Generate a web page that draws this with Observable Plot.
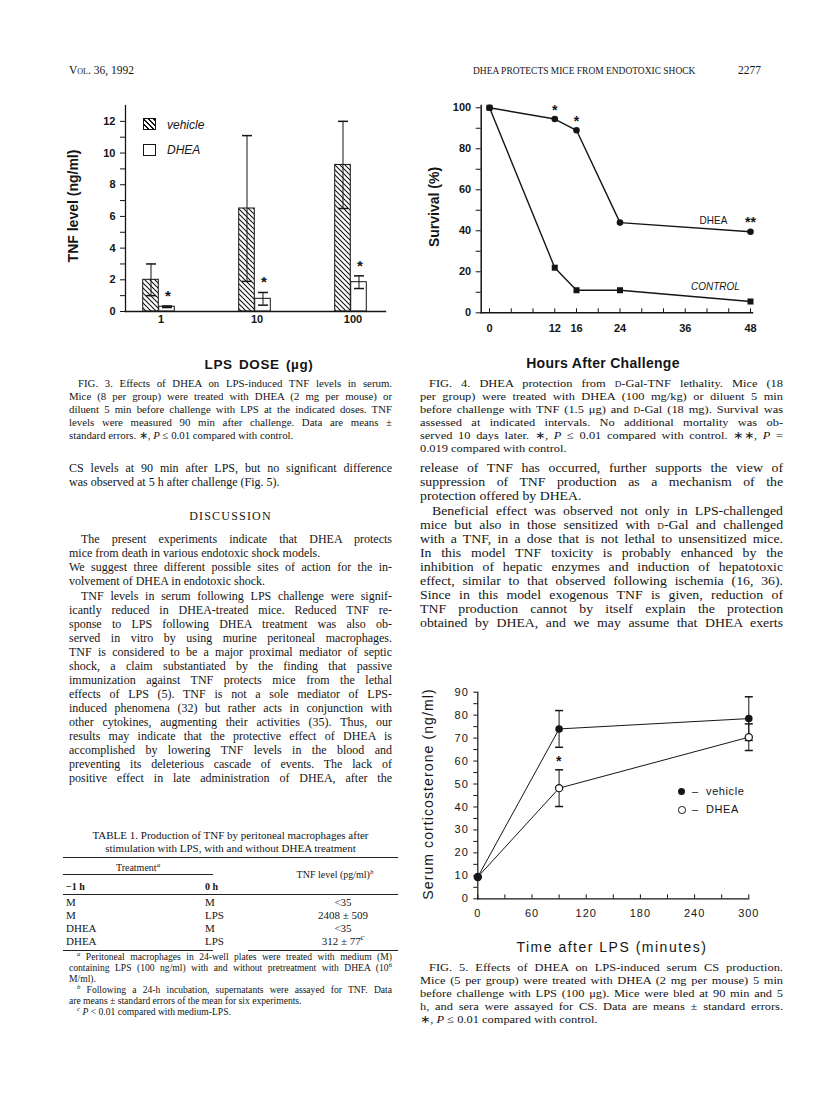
<!DOCTYPE html>
<html><head><meta charset="utf-8">
<script src="https://cdn.jsdelivr.net/npm/d3@7"></script>
<script src="https://cdn.jsdelivr.net/npm/@observablehq/plot@0.6"></script>
<style>
html,body{margin:0;padding:0;background:#fff;}
#page{position:relative;width:816px;height:1103px;overflow:hidden;font-family:"Liberation Serif","Times New Roman",serif;color:#151515;}
#page div{position:absolute;}
.sc{font-variant:small-caps;}
sup{font-size:0.7em;line-height:0;font-style:italic;}
</style></head><body><div id="page"></div>
<script>
// ---------- Fig. 3 data ----------
const doses = ["1", "10", "100"];
const tnfVehicle = [2.0, 6.5, 9.25];
const tnfVehicleSE = [1.0, 4.6, 2.75];
const tnfDhea = [0.3, 0.8, 1.85];
const tnfDheaSE = [0.05, 0.4, 0.4];
const tnfStars = ["*", "*", "*"];
const tnfTicks = d3.range(0, 13, 1);

// ---------- Fig. 4 data ----------
const hours = [0, 12, 16, 24, 48];
const survDhea = [100, 94.5, 89, 44, 39.5];
const survControl = [100, 22, 11, 11, 5.5];
const survStars = ["", "*", "*", "", "**"];
const hourLabels = [0, 12, 16, 24, 36, 48];

// ---------- Fig. 5 data ----------
const minutes = [0, 90, 300];
const csVehicle = [9.5, 74, 78.5];
const csVehicleSE = [0, 8, 9.5];
const csDhea = [9.5, 48.2, 70.4];
const csDheaSE = [0, 8, 5.8];
const csStars = ["", "*", ""];

// ---------- Table 1 ----------
const tblPre = ["M", "M", "DHEA", "DHEA"];
const tblZero = ["M", "LPS", "M", "LPS"];
const tblTnf = ["&lt;35", "2408 ± 509", "&lt;35", "312 ± 77<sup>c</sup>"];

// ---------- Text ----------
const cap3 = [
 "FIG. 3. Effects of DHEA on LPS-induced TNF levels in serum.",
 "Mice (8 per group) were treated with DHEA (2 mg per mouse) or",
 "diluent 5 min before challenge with LPS at the indicated doses. TNF",
 "levels were measured 90 min after challenge. Data are means ±",
 "standard errors. ∗, <i>P</i> ≤ 0.01 compared with control."];
const cap4 = [
 "FIG. 4. DHEA protection from <span class='sc'>d</span>-Gal-TNF lethality. Mice (18",
 "per group) were treated with DHEA (100 mg/kg) or diluent 5 min",
 "before challenge with TNF (1.5 μg) and <span class='sc'>d</span>-Gal (18 mg). Survival was",
 "assessed at indicated intervals. No additional mortality was ob-",
 "served 10 days later. ∗, <i>P</i> ≤ 0.01 compared with control. ∗∗, <i>P</i> =",
 "0.019 compared with control."];
const cap5 = [
 "FIG. 5. Effects of DHEA on LPS-induced serum CS production.",
 "Mice (5 per group) were treated with DHEA (2 mg per mouse) 5 min",
 "before challenge with LPS (100 μg). Mice were bled at 90 min and 5",
 "h, and sera were assayed for CS. Data are means ± standard errors.",
 "∗, <i>P</i> ≤ 0.01 compared with control."];
const bodyL1 = [
 "CS levels at 90 min after LPS, but no significant difference",
 "was observed at 5 h after challenge (Fig. 5)."];
const discP1 = [
 "The present experiments indicate that DHEA protects",
 "mice from death in various endotoxic shock models.",
 "We suggest three different possible sites of action for the in-",
 "volvement of DHEA in endotoxic shock."];
const discP2 = [
 "TNF levels in serum following LPS challenge were signif-",
 "icantly reduced in DHEA-treated mice. Reduced TNF re-",
 "sponse to LPS following DHEA treatment was also ob-",
 "served in vitro by using murine peritoneal macrophages.",
 "TNF is considered to be a major proximal mediator of septic",
 "shock, a claim substantiated by the finding that passive",
 "immunization against TNF protects mice from the lethal",
 "effects of LPS (5). TNF is not a sole mediator of LPS-",
 "induced phenomena (32) but rather acts in conjunction with",
 "other cytokines, augmenting their activities (35). Thus, our",
 "results may indicate that the protective effect of DHEA is",
 "accomplished by lowering TNF levels in the blood and",
 "preventing its deleterious cascade of events. The lack of",
 "positive effect in late administration of DHEA, after the"];
const bodyR1 = [
 "release of TNF has occurred, further supports the view of",
 "suppression of TNF production as a mechanism of the",
 "protection offered by DHEA."];
const bodyR2 = [
 "Beneficial effect was observed not only in LPS-challenged",
 "mice but also in those sensitized with <span class='sc'>d</span>-Gal and challenged",
 "with a TNF, in a dose that is not lethal to unsensitized mice.",
 "In this model TNF toxicity is probably enhanced by the",
 "inhibition of hepatic enzymes and induction of hepatotoxic",
 "effect, similar to that observed following ischemia (16, 36).",
 "Since in this model exogenous TNF is given, reduction of",
 "TNF production cannot by itself explain the protection",
 "obtained by DHEA, and we may assume that DHEA exerts"];
const foot = [
 ["<sup>a</sup> Peritoneal macrophages in 24-well plates were treated with medium (M)", 8, true],
 ["containing LPS (100 ng/ml) with and without pretreatment with DHEA (10<sup style='font-style:normal'>6</sup>", 0, true],
 ["M/ml).", 0, false],
 ["<sup>b</sup> Following a 24-h incubation, supernatants were assayed for TNF. Data", 8, true],
 ["are means ± standard errors of the mean for six experiments.", 0, false],
 ["<sup>c</sup> <i>P</i> &lt; 0.01 compared with medium-LPS.", 8, false]];

// ---------- layout helpers ----------
const page = document.getElementById("page");
function put(html, css) { const d = document.createElement("div"); d.innerHTML = html; d.style.cssText += css; page.appendChild(d); return d; }
const L0 = 69, LW = 323, R0 = 420, RW = 363, RSX = 1.15;
function para(lines, x, y0, w, lh, fs, indent, leftIdx, sx = 1) {
  lines.forEach((t, i) => {
    const ind = i === 0 ? indent : 0;
    const just = !leftIdx.includes(i) && !(leftIdx.includes(-1) && i === lines.length - 1);
    const a = just ? "justify" : "left";
    put(t, `left:${x + ind}px;top:${(y0 + i * lh - lh / 2 - 1).toFixed(1)}px;width:${((w - ind) / sx).toFixed(1)}px;transform:scaleX(${sx});transform-origin:0 0;font-size:${fs}px;line-height:${lh}px;white-space:nowrap;text-align:${a};text-align-last:${a};`);
  });
}

// header
put("<span class='sc'>Vol.</span> 36, 1992", "left:69px;top:63px;font-size:11.5px;line-height:14px;white-space:nowrap;");
put("DHEA PROTECTS MICE FROM ENDOTOXIC SHOCK", "left:473px;top:63px;font-size:11px;line-height:14px;white-space:nowrap;transform:scaleX(0.86);transform-origin:0 0;");
put("2277", "left:738px;top:63px;font-size:11.5px;line-height:14px;");

// left column text
para(cap3, L0, 384, LW, 13, 10.8, 9, [-1]);
para(bodyL1, L0, 469, LW, 14, 12, 0, [-1]);
put("DISCUSSION", `left:${L0}px;width:${LW}px;top:509px;text-align:center;font-size:12px;letter-spacing:1.2px;line-height:14px;`);
para(discP1, L0, 540, LW, 14, 12, 12, [1, 3]);
para(discP2, L0, 597, LW, 14, 12, 12, []);

// table
const T0 = 63, T1 = 398;
put("TABLE 1. Production of TNF by peritoneal macrophages after", `left:${T0}px;width:${T1-T0}px;top:829px;text-align:center;font-size:11px;line-height:13px;white-space:nowrap;`);
put("stimulation with LPS, with and without DHEA treatment", `left:${T0}px;width:${T1-T0}px;top:842px;text-align:center;font-size:11px;line-height:13px;white-space:nowrap;`);
put("", `left:${T0}px;width:${T1-T0}px;top:857px;height:0;border-top:1.2px solid #222;`);
put("Treatment<sup>a</sup>", `left:${T0}px;width:150px;top:862px;text-align:center;font-size:10px;line-height:12px;`);
put("", `left:${T0}px;width:150px;top:874px;height:0;border-top:0.8px solid #222;`);
put("TNF level (pg/ml)<sup>b</sup>", `left:272px;width:126px;top:869px;text-align:center;font-size:10px;line-height:12px;white-space:nowrap;`);
put("−1 h", "left:66px;top:881px;font-size:10px;line-height:12px;font-weight:bold;");
put("0 h", "left:205px;top:881px;font-size:10px;line-height:12px;font-weight:bold;");
put("", `left:${T0}px;width:${T1-T0}px;top:894px;height:0;border-top:0.8px solid #222;`);
tblPre.forEach((t, i) => {
  const y = 903 + i * 13 - 7;
  put(t, `left:66px;top:${y}px;font-size:11px;line-height:13px;`);
  put(tblZero[i], `left:205px;top:${y}px;font-size:11px;line-height:13px;`);
  put(tblTnf[i], `left:283px;width:120px;top:${y}px;text-align:center;font-size:11px;line-height:13px;white-space:nowrap;`);
});
put("", `left:${T0}px;width:150px;top:950px;height:0;border-top:0.8px solid #222;`);
put("", `left:248px;width:${T1-248}px;top:950px;height:0;border-top:0.8px solid #222;`);
foot.forEach(([t, ind, j], i) => {
  const a = j ? "justify" : "left";
  put(t, `left:${L0 + ind}px;width:${LW - ind}px;top:${957 + i * 11 - 6.5}px;font-size:9.6px;line-height:11px;white-space:nowrap;text-align:${a};text-align-last:${a};`);
});

// right column text
para(cap4, R0, 384, RW, 13, 10.8, 9, [-1], RSX);
para(bodyR1, R0, 469, RW, 14, 12, 0, [-1], RSX);
para(bodyR2, R0, 512, RW, 14, 12, 12, [], RSX);
para(cap5, R0, 968, RW, 13, 10.8, 9, [-1], RSX);

// ---------- shared ----------
const ink = "#151515";
const capSym = {draw(ctx, size) { const r = Math.sqrt(size / Math.PI); ctx.moveTo(-r, 0); ctx.lineTo(r, 0); }};
function place(svg, left, top) { const d = document.createElement("div"); d.style.cssText = `position:absolute;left:${left}px;top:${top}px;`; d.appendChild(svg); page.appendChild(d); return svg; }
const sansBold = {fontFamily: "Liberation Sans, Arial, sans-serif", fontSize: "11px", fontWeight: "bold", color: ink, background: "transparent", overflow: "visible"};

// ---------- Fig. 3 ----------
const f3 = doses.map((d, i) => ({dose: d, v: tnfVehicle[i], vse: tnfVehicleSE[i], h: tnfDhea[i], hse: tnfDheaSE[i], s: tnfStars[i]}));
const bw3 = 260 * 0.7 / 2.7, hb = bw3 / 2;
const fig3 = Plot.plot({
  width: 335, height: 240, marginLeft: 65, marginRight: 10, marginTop: 10, marginBottom: 24,
  style: sansBold,
  x: {domain: doses, paddingInner: 0.3, paddingOuter: 0},
  y: {domain: [0, 13]},
  marks: [
    Plot.barY(f3, {x: "dose", y: "v", fill: "url(#hatch3)", stroke: ink, strokeWidth: 1, insetLeft: hb - 16, insetRight: hb}),
    Plot.barY(f3, {x: "dose", y: "h", fill: "#fff", stroke: ink, strokeWidth: 1, insetLeft: hb, insetRight: hb - 16}),
    Plot.ruleX(f3, {x: "dose", y1: d => d.v - d.vse, y2: d => d.v + d.vse, dx: -8, stroke: ink}),
    Plot.dot(f3, {x: "dose", y: d => d.v + d.vse, dx: -8, symbol: capSym, r: 5, stroke: ink}),
    Plot.dot(f3, {x: "dose", y: d => d.v - d.vse, dx: -8, symbol: capSym, r: 5, stroke: ink}),
    Plot.ruleX(f3, {x: "dose", y1: d => d.h - d.hse, y2: d => d.h + d.hse, dx: 8, stroke: ink}),
    Plot.dot(f3, {x: "dose", y: d => d.h + d.hse, dx: 8, symbol: capSym, r: 5, stroke: ink}),
    Plot.dot(f3, {x: "dose", y: d => d.h - d.hse, dx: 8, symbol: capSym, r: 5, stroke: ink}),
    Plot.text(f3, {x: "dose", y: d => d.h + d.hse, text: "s", dx: 9, dy: -10, fontSize: 15, fill: ink}),
    Plot.axisY({ticks: tnfTicks, tickFormat: d => d % 2 ? "" : d, tickSize: 5, tickPadding: 5, label: null, stroke: ink}),
    Plot.axisX({tickSize: 0, tickPadding: 4, dx: 2, label: null}),
    Plot.frame({anchor: "left", stroke: ink, strokeWidth: 1.3}),
    Plot.frame({anchor: "bottom", stroke: ink, strokeWidth: 1.3})
  ]
});
fig3.insertAdjacentHTML("afterbegin", `<defs><pattern id="hatch3" patternUnits="userSpaceOnUse" width="5" height="5"><rect width="5" height="5" fill="#fff"/><path d="M0,0L5,5M-1,4L1,6M4,-1L6,1" stroke="${ink}" stroke-width="1.1"/></pattern></defs>`);
place(fig3, 60, 95);
put("TNF level (ng/ml)", "left:73px;top:206px;transform:translate(-50%,-50%) rotate(-90deg);font-family:'Liberation Sans',Arial,sans-serif;font-weight:bold;font-size:14px;white-space:nowrap;line-height:16px;");
put("LPS DOSE (µg)", "left:259px;top:365px;transform:translate(-50%,-50%);font-family:'Liberation Sans',Arial,sans-serif;font-weight:bold;font-size:13.5px;letter-spacing:0.6px;word-spacing:2px;white-space:nowrap;line-height:16px;");
put("", `left:143px;top:118px;width:11px;height:10px;border:1px solid ${ink};background:repeating-linear-gradient(45deg,#fff 0 2.6px,${ink} 2.6px 3.6px);`);
put("", `left:143px;top:144px;width:11px;height:10px;border:1px solid ${ink};background:#fff;`);
put("vehicle", "left:167px;top:117px;font-family:'Liberation Sans',Arial,sans-serif;font-style:italic;font-size:12px;line-height:16px;");
put("DHEA", "left:167px;top:142px;font-family:'Liberation Sans',Arial,sans-serif;font-style:italic;font-size:12px;line-height:16px;");

// ---------- Fig. 4 ----------
const f4 = hours.map((h, i) => ({h, d: survDhea[i], c: survControl[i], s: survStars[i]}));
const fig4 = Plot.plot({
  width: 350, height: 247.3, marginLeft: 65.7, marginRight: 13, marginTop: 10, marginBottom: 30,
  style: sansBold,
  x: {domain: [-1.53, 48.37]},
  y: {domain: [0, 101.1]},
  marks: [
    Plot.frame({anchor: "left", stroke: ink, strokeWidth: 1.5}),
    Plot.frame({anchor: "bottom", stroke: ink, strokeWidth: 1.5}),
    Plot.axisY({ticks: d3.range(0, 101, 10), tickFormat: d => d % 20 ? "" : d, tickSize: 5, tickPadding: 5, label: null}),
    Plot.axisX({ticks: hourLabels, tickSize: 0, tickPadding: 11, label: null}),
    Plot.tickX(d3.range(0, 49, 4), {x: d => d, insetTop: 207.3 - 4, stroke: ink}),
    Plot.line(f4, {x: "h", y: "d", stroke: ink, strokeWidth: 1.4}),
    Plot.line(f4, {x: "h", y: "c", stroke: ink, strokeWidth: 1.4}),
    Plot.dot(f4, {x: "h", y: "d", r: 3.3, fill: ink}),
    Plot.dot(f4, {x: "h", y: "c", r: 3.4, symbol: "square", fill: ink}),
    Plot.text(f4, {x: "h", y: "d", text: "s", dy: -9, fontSize: 14, fill: ink}),
    Plot.text(f4.slice(-1), {x: "h", y: "d", text: () => "DHEA", dx: -37, dy: -11, fontSize: 10, fontWeight: "normal", fill: ink}),
    Plot.text(f4.slice(-1), {x: "h", y: "c", text: () => "CONTROL", dx: -35, dy: -15, fontSize: 10, fontWeight: "normal", fontStyle: "italic", fill: ink})
  ]
});
place(fig4, 415, 95);
put("Survival (%)", "left:434px;top:207px;transform:translate(-50%,-50%) rotate(-90deg);font-family:'Liberation Sans',Arial,sans-serif;font-weight:bold;font-size:14px;white-space:nowrap;line-height:16px;");
put("Hours After Challenge", "left:603px;top:363px;transform:translate(-50%,-50%);font-family:'Liberation Sans',Arial,sans-serif;font-weight:bold;font-size:14px;letter-spacing:0.3px;white-space:nowrap;line-height:16px;");

// ---------- Fig. 5 ----------
const f5 = minutes.map((m, i) => ({m, v: csVehicle[i], vse: csVehicleSE[i], h: csDhea[i], hse: csDheaSE[i], s: csStars[i]}));
const f5e = f5.filter(d => d.vse > 0);
const fig5 = Plot.plot({
  width: 345, height: 238.3, marginLeft: 57.3, marginRight: 16.7, marginTop: 11.7, marginBottom: 20,
  style: {...sansBold, fontWeight: "normal", letterSpacing: "1px"},
  x: {domain: [0, 300]},
  y: {domain: [0, 90]},
  marks: [
    Plot.frame({anchor: "left", stroke: ink, strokeWidth: 1.2}),
    Plot.frame({anchor: "bottom", stroke: ink, strokeWidth: 1.2}),
    Plot.axisY({ticks: d3.range(0, 91, 5), tickFormat: d => d % 10 ? "" : d, tickSize: 4, tickPadding: 5, label: null}),
    Plot.axisX({ticks: d3.range(0, 301, 60), tickSize: 0, tickPadding: 10, label: null}),
    Plot.tickX(d3.range(0, 301, 30), {x: d => d, insetTop: 206.6 - 4, stroke: ink}),
    Plot.ruleX(f5e, {x: "m", y1: d => d.v - d.vse, y2: d => d.v + d.vse, stroke: ink}),
    Plot.ruleX(f5e, {x: "m", y1: d => d.h - d.hse, y2: d => d.h + d.hse, stroke: ink}),
    Plot.dot(f5e, {x: "m", y: d => d.v + d.vse, symbol: capSym, r: 4, stroke: ink}),
    Plot.dot(f5e, {x: "m", y: d => d.v - d.vse, symbol: capSym, r: 4, stroke: ink}),
    Plot.dot(f5e, {x: "m", y: d => d.h + d.hse, symbol: capSym, r: 4, stroke: ink}),
    Plot.dot(f5e, {x: "m", y: d => d.h - d.hse, symbol: capSym, r: 4, stroke: ink}),
    Plot.line(f5, {x: "m", y: "h", stroke: ink, strokeWidth: 1}),
    Plot.line(f5, {x: "m", y: "v", stroke: ink, strokeWidth: 1}),
    Plot.dot(f5, {x: "m", y: "h", r: 3.6, fill: "#fff", stroke: ink, strokeWidth: 1.2}),
    Plot.dot(f5, {x: "m", y: "v", r: 3.8, fill: ink}),
    Plot.text(f5.filter(d => d.s), {x: "m", y: d => (d.v - d.vse + d.h + d.hse) / 2, text: "s", dy: 3, fontSize: 14, fontWeight: "bold", fill: ink})
  ]
});
place(fig5, 420, 680);
put("Serum corticosterone (ng/ml)", "left:428px;top:794px;transform:translate(-50%,-50%) rotate(-90deg);font-family:'Liberation Sans',Arial,sans-serif;font-size:14px;letter-spacing:1.1px;white-space:nowrap;line-height:16px;");
put("Time after LPS (minutes)", "left:612px;top:947px;transform:translate(-50%,-50%);font-family:'Liberation Sans',Arial,sans-serif;font-size:14px;letter-spacing:1.5px;white-space:nowrap;line-height:16px;");
put("", `left:678px;top:787.5px;width:7px;height:7px;border-radius:50%;background:${ink};`);
put("", `left:678px;top:806px;width:5.5px;height:5.5px;border-radius:50%;border:1px solid ${ink};background:#fff;`);
put("–&nbsp;&nbsp;vehicle", "left:692px;top:783px;font-family:'Liberation Sans',Arial,sans-serif;font-size:11px;letter-spacing:0.6px;line-height:16px;white-space:nowrap;");
put("–&nbsp;&nbsp;DHEA", "left:692px;top:801px;font-family:'Liberation Sans',Arial,sans-serif;font-size:11px;letter-spacing:0.6px;line-height:16px;white-space:nowrap;");
</script></body></html>
